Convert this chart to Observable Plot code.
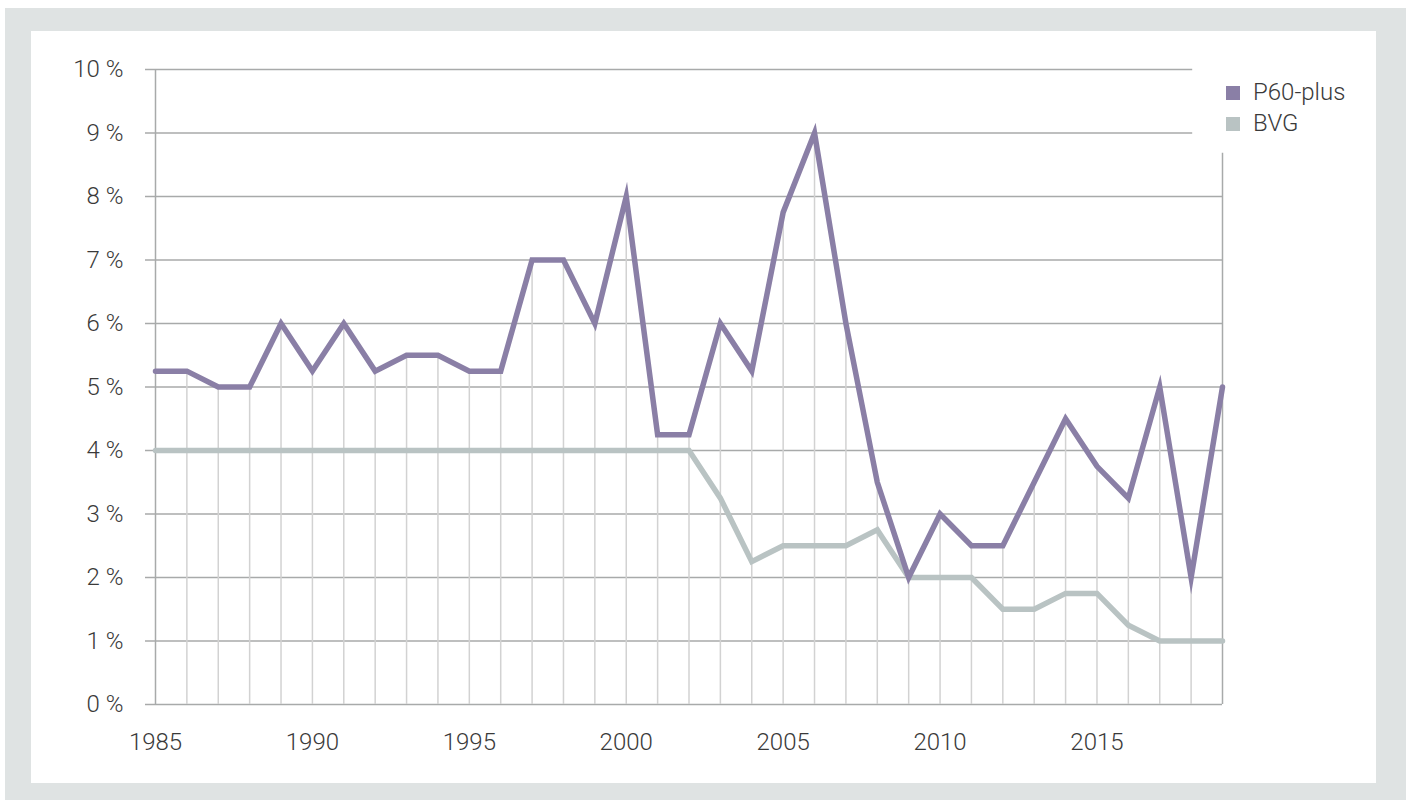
<!DOCTYPE html>
<html>
<head>
<meta charset="utf-8">
<script src="https://cdn.jsdelivr.net/npm/d3@7"></script>
<script src="https://cdn.jsdelivr.net/npm/@observablehq/plot@0.6"></script>
<style>
  body { margin: 0; background: #fff; font-family: Roboto, "Noto Sans", sans-serif; }
  #bg { position: absolute; left: 5px; top: 8px; width: 1401px; height: 792px; background: #dfe3e3; }
  #panel { position: absolute; left: 31px; top: 31px; width: 1345px; height: 752px; background: #fff; }
  #chart { position: absolute; left: 0; top: 0; }
  #legend { position: absolute; left: 1226px; top: 77px; font-size: 24px; font-weight: 300; color: #3a3a3a; line-height: 31px; }
  #legend .item { display: flex; align-items: center; }
  #legend .sw { width: 14px; height: 14px; margin-right: 13px; }
</style>
</head>
<body>
<div id="bg"></div>
<div id="panel"></div>
<div id="chart"></div>
<div id="legend"></div>
<script>
const years = d3.range(1985, 2020);
const p60plus = [5.25, 5.25, 5.0, 5.0, 6.0, 5.25, 6.0, 5.25, 5.5, 5.5, 5.25, 5.25, 7.0, 7.0, 6.0, 8.0, 4.25, 4.25, 6.0, 5.25, 7.75, 9.0, 6.0, 3.5, 2.0, 3.0, 2.5, 2.5, 3.5, 4.5, 3.75, 3.25, 5.0, 2.0, 5.0];
const bvg = [4.0, 4.0, 4.0, 4.0, 4.0, 4.0, 4.0, 4.0, 4.0, 4.0, 4.0, 4.0, 4.0, 4.0, 4.0, 4.0, 4.0, 4.0, 3.25, 2.25, 2.5, 2.5, 2.5, 2.75, 2.0, 2.0, 2.0, 1.5, 1.5, 1.75, 1.75, 1.25, 1.0, 1.0, 1.0];
const seriesNames = ["P60-plus", "BVG"];
const seriesColors = ["#8a7fa6", "#b9c3c3"];
const yTicks = d3.range(0, 11);
const xTicks = [1985, 1990, 1995, 2000, 2005, 2010, 2015];

const p60Data = years.map((y, i) => ({year: y, value: p60plus[i]}));
const bvgData = years.map((y, i) => ({year: y, value: bvg[i]}));
const firstYear = years[0], lastYear = years[years.length - 1];
const legendCut = lastYear - 0.95;   // gridlines under legend stop here
const frameTop = 8.68;               // right frame line stops under the legend

const gridColor = "#a8aaaa";
const dropColor = "#d2d2d2";

const chart = Plot.plot({
  width: 1406,
  height: 800,
  marginLeft: 155,
  marginRight: 184,
  marginTop: 69,
  marginBottom: 96,
  style: {background: "transparent", fontFamily: "Roboto, sans-serif", fontSize: "24px", fontWeight: 300, color: "#3a3a3a"},
  x: {domain: [firstYear, lastYear], axis: null},
  y: {domain: [0, 10], axis: null},
  marks: [
    Plot.ruleY(yTicks, {x1: firstYear, x2: d => d >= 9 ? legendCut : lastYear, stroke: gridColor, strokeWidth: 1.5}),
    Plot.ruleX(p60Data.filter(d => d.year > firstYear && d.year < lastYear), {x: "year", y1: 0, y2: "value", stroke: dropColor, strokeWidth: 1.5}),
    Plot.ruleX([firstYear], {y1: 0, y2: 10, stroke: gridColor, strokeWidth: 1.5}),
    Plot.ruleX([lastYear], {y1: 0, y2: frameTop, stroke: gridColor, strokeWidth: 1.5}),
    Plot.axisY({ticks: yTicks, label: null, tickSize: 10, tickPadding: 22, stroke: gridColor, strokeWidth: 1.5, tickFormat: d => d + " %", fontSize: 24, fontWeight: 300, fill: "#3a3a3a"}),
    Plot.axisX({ticks: xTicks, label: null, tickSize: 0, tickPadding: 28, tickFormat: d => String(d), fontSize: 24, fontWeight: 300, fill: "#3a3a3a"}),
    Plot.line(bvgData, {x: "year", y: "value", stroke: seriesColors[1], strokeWidth: 5.5, strokeLinejoin: "miter", strokeMiterlimit: 10}),
    Plot.line(p60Data, {x: "year", y: "value", stroke: seriesColors[0], strokeWidth: 5.5, strokeLinejoin: "miter", strokeMiterlimit: 10})
  ]
});
document.getElementById("chart").appendChild(chart);

const legend = document.getElementById("legend");
seriesNames.forEach((name, i) => {
  const item = document.createElement("div");
  item.className = "item";
  const sw = document.createElement("span");
  sw.className = "sw";
  sw.style.background = seriesColors[i];
  const t = document.createElement("span");
  t.textContent = name;
  item.appendChild(sw);
  item.appendChild(t);
  legend.appendChild(item);
});
</script>
</body>
</html>
